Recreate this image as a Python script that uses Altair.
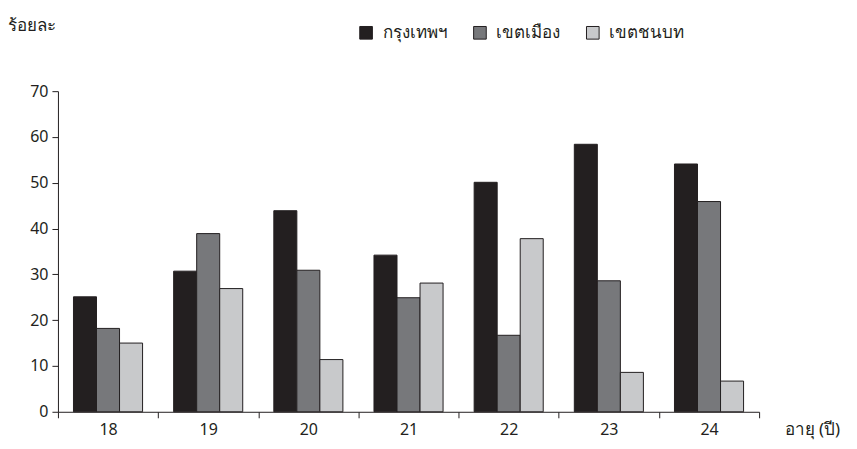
import altair as alt
import pandas as pd

ages = ["18", "19", "20", "21", "22", "23", "24"]
series = ["กรุงเทพฯ", "เขตเมือง", "เขตชนบท"]
bangkok = [25.1, 30.7, 43.9, 34.2, 50.1, 58.4, 54.1]
urban = [18.2, 38.9, 30.9, 24.9, 16.7, 28.6, 45.9]
rural = [15.0, 26.9, 11.4, 28.1, 37.8, 8.6, 6.7]
colors = ["#231f20", "#77787b", "#c8c9cb"]

rows = []
for i, a in enumerate(ages):
    for s, vals in zip(series, [bangkok, urban, rural]):
        rows.append({"age": a, "group": s, "value": vals[i]})
df = pd.DataFrame(rows)

font = "Noto Sans"
ink = "#231f20"

chart = alt.Chart(df).mark_bar(stroke=ink, strokeWidth=1).encode(
    x=alt.X("age:N", sort=ages,
            scale=alt.Scale(paddingInner=0, paddingOuter=0),
            axis=alt.Axis(title="อายุ (ปี)", labelAngle=0, tickBand="extent",
                          titleX=727, titleY=18, titleAlign="left",
                          titleBaseline="middle", titleFontWeight="normal",
                          titleFontSize=17, labelFontSize=16, labelPadding=4,
                          tickSize=6, domainColor=ink, tickColor=ink,
                          labelColor=ink, titleColor=ink)),
    xOffset=alt.XOffset("group:N", sort=series,
                        scale=alt.Scale(paddingOuter=0.675, paddingInner=0)),
    y=alt.Y("value:Q", scale=alt.Scale(domain=[0, 70]),
            axis=alt.Axis(title="ร้อยละ", values=[0, 10, 20, 30, 40, 50, 60, 70],
                          grid=False, titleAngle=0, titleX=-50, titleY=-66,
                          titleAlign="left", titleBaseline="middle",
                          titleFontWeight="normal", titleFontSize=17,
                          labelFontSize=16, labelPadding=4, tickSize=6,
                          domainColor=ink, tickColor=ink,
                          labelColor=ink, titleColor=ink)),
    color=alt.Color("group:N", sort=series,
                    scale=alt.Scale(domain=series, range=colors),
                    legend=alt.Legend(title=None, orient="none", direction="horizontal",
                                      legendX=300, legendY=-67, symbolType="square",
                                      symbolSize=160, symbolStrokeColor=ink,
                                      symbolStrokeWidth=1, labelFontSize=17,
                                      labelColor=ink, columnPadding=24,
                                      labelOffset=8, symbolOpacity=1)),
).properties(
    width=702, height=321,
    autosize=alt.AutoSizeParams(type="none"),
    padding={"left": 50, "top": 83, "right": 90, "bottom": 30},
).configure(font=font).configure_view(strokeWidth=0)

chart.save("out.html", embed_options={"renderer": "svg", "actions": False})
